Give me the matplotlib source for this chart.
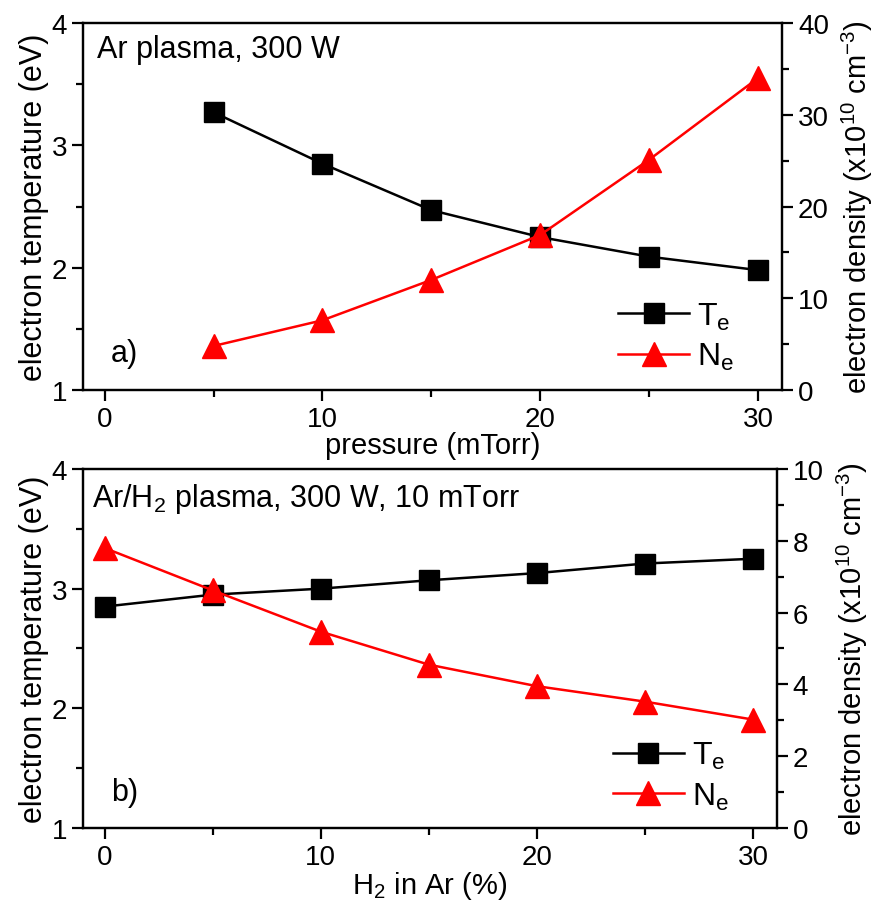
import matplotlib
matplotlib.use("Agg")
import matplotlib.pyplot as plt
from matplotlib.ticker import MultipleLocator

# panel a) : Ar plasma vs pressure
pressure = [5, 10, 15, 20, 25, 30]
te_a = [3.27, 2.85, 2.47, 2.25, 2.09, 1.98]
ne_a = [4.8, 7.6, 12.0, 16.9, 25.1, 34.0]

# panel b) : Ar/H2 plasma vs H2 fraction
h2 = [0, 5, 10, 15, 20, 25, 30]
te_b = [2.85, 2.95, 3.00, 3.07, 3.13, 3.21, 3.25]
ne_b = [7.8, 6.62, 5.47, 4.55, 3.95, 3.52, 3.02]

plt.rcParams['font.family'] = ['Liberation Sans', 'DejaVu Sans']
plt.rcParams['mathtext.fontset'] = 'custom'
plt.rcParams['mathtext.rm'] = 'Liberation Sans'
plt.rcParams['mathtext.it'] = 'Liberation Sans'
plt.rcParams['mathtext.default'] = 'regular'

fig = plt.figure(figsize=(8.77, 9.03), dpi=100)
ax_a = fig.add_axes([0.0946, 0.567, 0.797, 0.4064])
ax_b = fig.add_axes([0.0946, 0.082, 0.791, 0.3975])


def style(ax, ax2, ymax2, minor2, major2):
    for a in (ax, ax2):
        for s in a.spines.values():
            s.set_linewidth(1.6)
    ax.set_xlim(-1, 31.1)
    ax.set_ylim(1, 4)
    ax.xaxis.set_major_locator(MultipleLocator(10))
    ax.xaxis.set_minor_locator(MultipleLocator(5))
    ax.yaxis.set_major_locator(MultipleLocator(1))
    ax.yaxis.set_minor_locator(MultipleLocator(0.5))
    ax2.set_ylim(0, ymax2)
    ax2.yaxis.set_major_locator(MultipleLocator(major2))
    ax2.yaxis.set_minor_locator(MultipleLocator(minor2))
    ax.tick_params(which='both', direction='out', width=1.6, labelsize=20,
                   top=False, right=False)
    ax.tick_params(which='major', length=8)
    ax.tick_params(which='minor', length=5)
    ax2.tick_params(which='both', direction='out', width=1.6, labelsize=20)
    ax2.tick_params(which='major', length=8)
    ax2.tick_params(which='minor', length=5)
    ax.set_ylabel('electron temperature (eV)', fontsize=22, labelpad=2)
    ax2.set_ylabel('electron density (x10$^{10}$ cm$^{-3}$)', fontsize=21,
                   labelpad=8)


def draw(ax, x, te, ne, ymax2, minor2, major2, leg_y):
    ax2 = ax.twinx()
    l1, = ax.plot(x, te, color='black', lw=1.8, marker='s', ms=14, zorder=3)
    l2, = ax2.plot(x, ne, color='red', lw=1.8, marker='^', ms=17, zorder=3)
    style(ax, ax2, ymax2, minor2, major2)
    ax2.legend([l1, l2], ['T$_e$', 'N$_e$'], loc='lower right',
               bbox_to_anchor=(0.972, leg_y), frameon=False, fontsize=23,
               handlelength=2.2, handletextpad=0.25, labelspacing=0.3)
    return ax2


draw(ax_a, pressure, te_a, ne_a, 40, 5, 10, -0.03)
ax_a.set_xlabel('pressure (mTorr)', fontsize=21, labelpad=-1)
ax_a.text(0.02, 0.93, 'Ar plasma, 300 W', transform=ax_a.transAxes,
          fontsize=22, va='center', ha='left')
ax_a.text(0.04, 0.1, 'a)', transform=ax_a.transAxes,
          fontsize=22, va='center', ha='left')

draw(ax_b, h2, te_b, ne_b, 10, 1, 2, -0.035)
ax_b.set_xlabel('H$_2$ in Ar (%)', fontsize=21, labelpad=-1)
ax_b.text(0.013, 0.92, 'Ar/H$_2$ plasma, 300 W, 10 mTorr', transform=ax_b.transAxes,
          fontsize=22, va='center', ha='left')
ax_b.text(0.04, 0.1, 'b)', transform=ax_b.transAxes,
          fontsize=22, va='center', ha='left')

fig.savefig('out.png', dpi=100)
